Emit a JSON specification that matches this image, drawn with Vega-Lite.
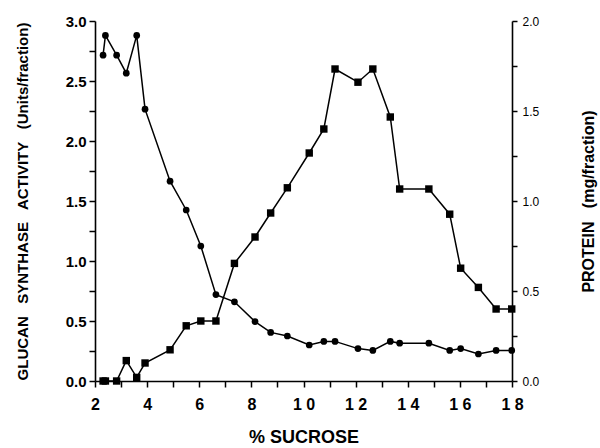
{
  "$schema": "https://vega.github.io/schema/vega-lite/v6.json",
  "width": 417,
  "height": 360,
  "autosize": "none",
  "padding": {"left": 95, "top": 21, "right": 88, "bottom": 67},
  "background": "white",
  "config": {
    "view": {"stroke": null},
    "font": "Liberation Sans",
    "axis": {
      "grid": false,
      "domainColor": "black",
      "tickColor": "black",
      "labelColor": "black",
      "titleColor": "black",
      "domainWidth": 1.6,
      "tickWidth": 1.5
    }
  },
  "datasets": {
    "activity": [
      {"sucrose": 2.31, "activity": 0},
      {"sucrose": 2.40, "activity": 0},
      {"sucrose": 2.83, "activity": 0},
      {"sucrose": 3.20, "activity": 0.17},
      {"sucrose": 3.60, "activity": 0.03},
      {"sucrose": 3.92, "activity": 0.15},
      {"sucrose": 4.88, "activity": 0.26},
      {"sucrose": 5.50, "activity": 0.46},
      {"sucrose": 6.06, "activity": 0.50},
      {"sucrose": 6.64, "activity": 0.50},
      {"sucrose": 7.35, "activity": 0.98},
      {"sucrose": 8.14, "activity": 1.20},
      {"sucrose": 8.74, "activity": 1.40},
      {"sucrose": 9.38, "activity": 1.61},
      {"sucrose": 10.22, "activity": 1.90},
      {"sucrose": 10.78, "activity": 2.10},
      {"sucrose": 11.21, "activity": 2.60},
      {"sucrose": 12.09, "activity": 2.49},
      {"sucrose": 12.66, "activity": 2.60},
      {"sucrose": 13.33, "activity": 2.20},
      {"sucrose": 13.69, "activity": 1.60},
      {"sucrose": 14.81, "activity": 1.60},
      {"sucrose": 15.61, "activity": 1.39},
      {"sucrose": 16.03, "activity": 0.94},
      {"sucrose": 16.71, "activity": 0.78},
      {"sucrose": 17.39, "activity": 0.60},
      {"sucrose": 17.99, "activity": 0.60}
    ],
    "protein": [
      {"sucrose": 2.31, "protein": 1.81},
      {"sucrose": 2.40, "protein": 1.92},
      {"sucrose": 2.83, "protein": 1.81},
      {"sucrose": 3.20, "protein": 1.71},
      {"sucrose": 3.60, "protein": 1.92},
      {"sucrose": 3.92, "protein": 1.51},
      {"sucrose": 4.88, "protein": 1.11},
      {"sucrose": 5.50, "protein": 0.95},
      {"sucrose": 6.06, "protein": 0.75},
      {"sucrose": 6.64, "protein": 0.48},
      {"sucrose": 7.35, "protein": 0.44},
      {"sucrose": 8.14, "protein": 0.33},
      {"sucrose": 8.74, "protein": 0.27},
      {"sucrose": 9.38, "protein": 0.25},
      {"sucrose": 10.22, "protein": 0.20},
      {"sucrose": 10.78, "protein": 0.22},
      {"sucrose": 11.21, "protein": 0.22},
      {"sucrose": 12.09, "protein": 0.18},
      {"sucrose": 12.66, "protein": 0.17},
      {"sucrose": 13.33, "protein": 0.22},
      {"sucrose": 13.69, "protein": 0.21},
      {"sucrose": 14.81, "protein": 0.21},
      {"sucrose": 15.61, "protein": 0.17},
      {"sucrose": 16.03, "protein": 0.18},
      {"sucrose": 16.71, "protein": 0.15},
      {"sucrose": 17.39, "protein": 0.17},
      {"sucrose": 17.99, "protein": 0.17}
    ]
  },
  "encoding": {
    "x": {
      "field": "sucrose",
      "type": "quantitative",
      "scale": {"domain": [2, 18], "nice": false, "zero": false},
      "axis": {
        "title": "% SUCROSE",
        "titleFontSize": 18,
        "titleFontWeight": "bold",
        "titlePadding": 16,
        "values": [2, 3, 4, 5, 6, 7, 8, 9, 10, 11, 12, 13, 14, 15, 16, 17, 18],
        "labelExpr": "datum.value % 2 == 0 ? (datum.value >= 10 ? slice(datum.label, 0, 1) + ' ' + slice(datum.label, 1) : datum.label) : ''",
        "labelFontSize": 16,
        "labelFontWeight": "bold",
        "labelPadding": 9,
        "tickSize": 6,
        "labelFlush": false,
        "labelOverlap": false
      }
    }
  },
  "layer": [
    {
      "data": {"name": "activity"},
      "encoding": {
        "y": {
          "field": "activity",
          "type": "quantitative",
          "scale": {"domain": [0, 3], "nice": false},
          "axis": {
            "orient": "left",
            "title": "GLUCAN\u00a0\u00a0 SYNTHASE\u00a0\u00a0 ACTIVITY\u00a0\u00a0 (Units/fraction)",
            "titleFontSize": 15,
            "titleFontWeight": "bold",
            "titlePadding": 35,
            "values": [0, 0.25, 0.5, 0.75, 1, 1.25, 1.5, 1.75, 2, 2.25, 2.5, 2.75, 3],
            "labelExpr": "datum.value % 0.5 == 0 ? format(datum.value, '.1f') : ''",
            "labelFontSize": 15,
            "labelFontWeight": "bold",
            "labelPadding": 3,
            "tickSize": 6,
            "labelFlush": false,
            "labelOverlap": false
          }
        }
      },
      "layer": [
        {"mark": {"type": "line", "color": "black", "strokeWidth": 1.5}},
        {"mark": {"type": "point", "shape": "square", "filled": true, "color": "black", "size": 55, "opacity": 1}}
      ]
    },
    {
      "data": {"name": "protein"},
      "encoding": {
        "y": {
          "field": "protein",
          "type": "quantitative",
          "scale": {"domain": [0, 2], "nice": false},
          "axis": {
            "orient": "right",
            "title": "PROTEIN\u00a0\u00a0 (mg/fraction)",
            "titleFontSize": 16,
            "titleFontWeight": "bold",
            "titleAngle": 270,
            "titlePadding": 58,
            "values": [0, 0.25, 0.5, 0.75, 1, 1.25, 1.5, 1.75, 2],
            "labelExpr": "datum.value % 0.5 == 0 ? format(datum.value, '.1f') : ''",
            "labelFontSize": 12,
            "labelFontWeight": "normal",
            "labelPadding": 5,
            "tickSize": 5,
            "labelFlush": false,
            "labelOverlap": false
          }
        }
      },
      "layer": [
        {"mark": {"type": "line", "color": "black", "strokeWidth": 1.5}},
        {"mark": {"type": "point", "shape": "circle", "filled": true, "color": "black", "size": 45, "opacity": 1}}
      ]
    }
  ],
  "resolve": {"scale": {"y": "independent"}}
}
